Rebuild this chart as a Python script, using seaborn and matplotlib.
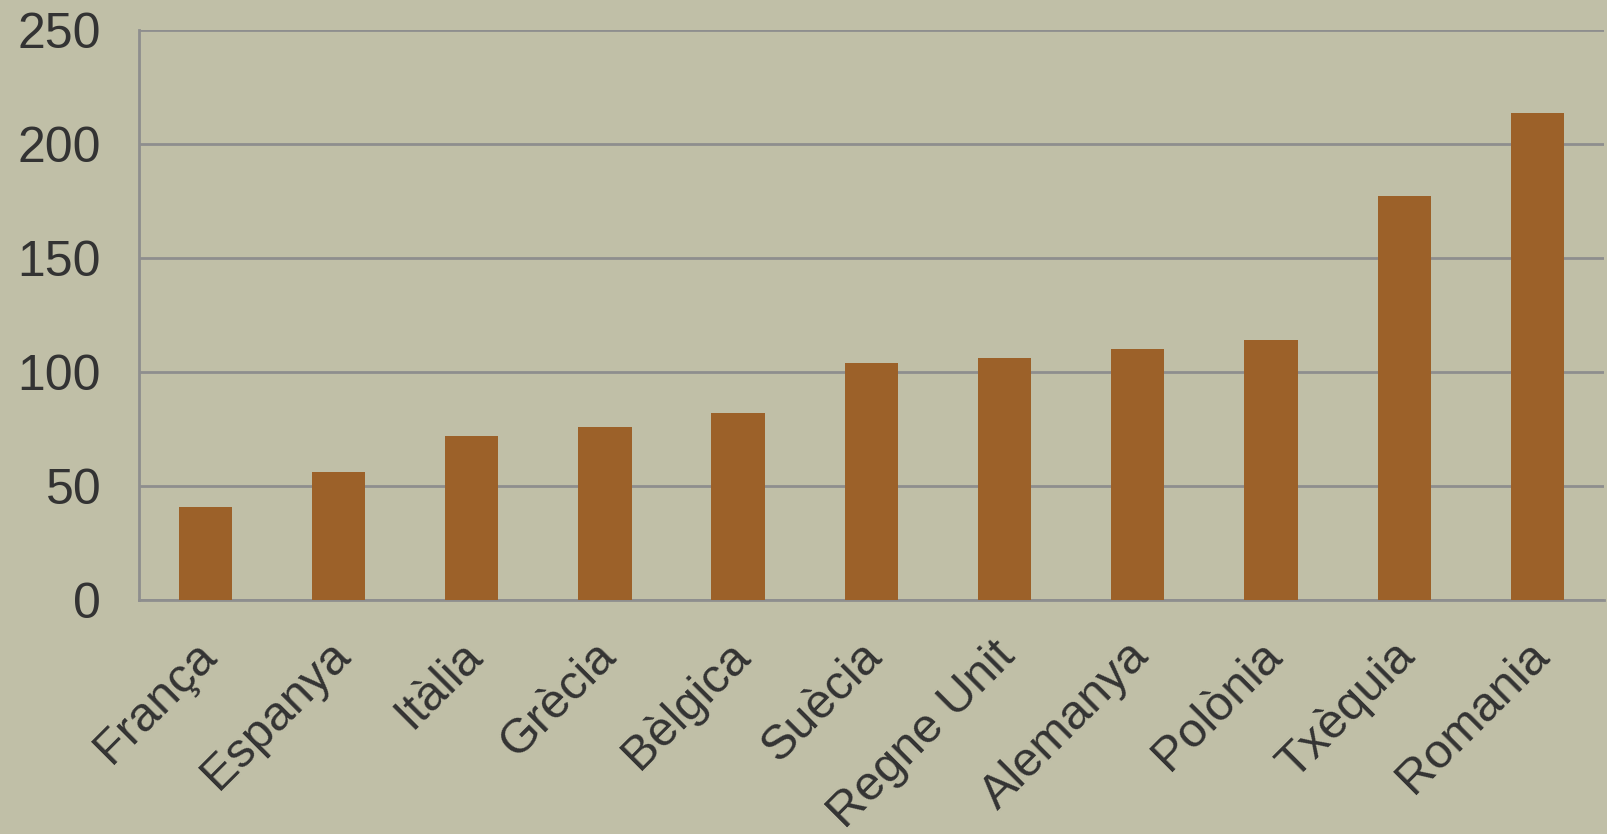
import matplotlib
matplotlib.use("Agg")
import matplotlib.pyplot as plt
import seaborn as sns
import pandas as pd
import matplotlib.transforms as mtransforms

countries = ["França", "Espanya", "Itàlia", "Grècia", "Bèlgica", "Suècia",
             "Regne Unit", "Alemanya", "Polònia", "Txèquia", "Romania"]
values = [41, 56, 72, 76, 82, 104, 106, 110, 114, 177, 213.5]
yticks = [0, 50, 100, 150, 200, 250]

bg = "#c0bfa7"
bar_color = "#9c6129"
grid_color = "#8e8e8e"
text_color = "#333333"

sns.set_theme(style="white")
plt.rcParams['font.family'] = ['Liberation Sans', 'DejaVu Sans']

df = pd.DataFrame({"pais": countries, "valor": values})

fig = plt.figure(figsize=(16.07, 8.34), dpi=100)
fig.patch.set_facecolor(bg)
ax = fig.add_axes([138.7 / 1607, 234 / 834, (1604 - 138.7) / 1607, 570 / 834])
ax.set_facecolor(bg)

sns.barplot(data=df, x="pais", y="valor", color=bar_color, width=0.4,
            saturation=1, ax=ax, zorder=3, edgecolor="none", linewidth=0)

ax.set_xlim(-0.5, len(countries) - 0.5)
ax.set_ylim(0, 250)
ax.set_yticks(yticks)
ax.set_yticklabels([str(v) for v in yticks])
ax.yaxis.grid(True, color=grid_color, linewidth=2, zorder=0)
ax.set_axisbelow(True)
ax.set_xlabel("")
ax.set_ylabel("")

for s in ["top", "right"]:
    ax.spines[s].set_visible(False)
for s in ["left", "bottom"]:
    ax.spines[s].set_color(grid_color)
    ax.spines[s].set_linewidth(2)

# ticks between categories on x
ax.set_xticks([i - 0.5 for i in range(len(countries) + 1)], minor=True)
ax.tick_params(axis="x", which="minor", length=14, width=2, color=grid_color, direction="out")
ax.tick_params(axis="x", which="major", length=0, pad=35, labelsize=35, labelcolor=text_color)
ax.tick_params(axis="y", which="major", length=13, width=2, color=grid_color, direction="out",
               pad=14, labelsize=36, labelcolor=text_color)

ax.set_xticks(range(len(countries)))
ax.set_xticklabels(countries, rotation=45, ha="right", va="center", rotation_mode="anchor")
offset = mtransforms.ScaledTranslation(4 / 100, 0, fig.dpi_scale_trans)
for lbl in ax.get_xticklabels():
    lbl.set_transform(lbl.get_transform() + offset)

fig.savefig("out.png", dpi=100, facecolor=bg)
